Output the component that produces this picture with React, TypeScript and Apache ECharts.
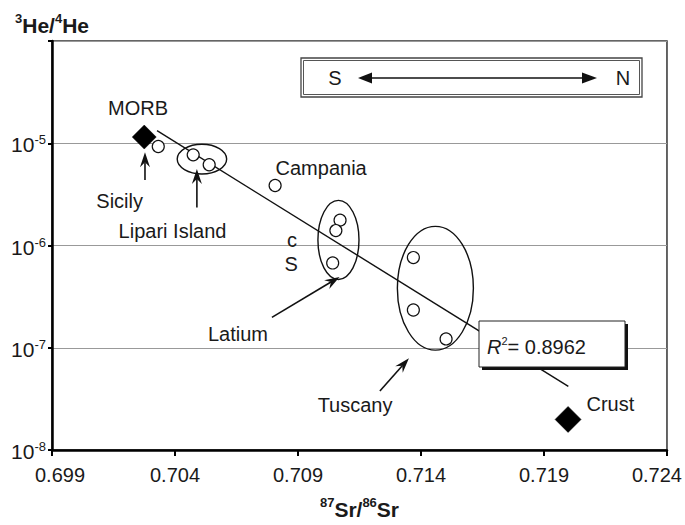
import React, { useEffect, useRef } from "react";
import * as echarts from "echarts";

const FONT = '"Liberation Sans", Arial, Helvetica, sans-serif';

// Axes
const xMin = 0.699;
const xMax = 0.724;
const xStep = 0.005;
const yMin = 1e-8;
const yMax = 1e-4;

// Samples (open circles)
const sampleX = [0.70332, 0.70474, 0.70539, 0.70807, 0.71071, 0.71054, 0.71041, 0.71369, 0.71369, 0.71502];
const sampleY = [9.29e-6, 7.7e-6, 6.16e-6, 3.86e-6, 1.77e-6, 1.4e-6, 6.75e-7, 7.62e-7, 2.34e-7, 1.22e-7];

// End members (filled diamonds)
const endNames = ["MORB", "Crust"];
const endX = [0.70275, 0.71998];
const endY = [1.15e-5, 1.99e-8];
const endSize = [24, 26];

// Trend line
const trendX = [0.70327, 0.71999];
const trendY = [1.327e-5, 4.19e-8];
const r2Value = "0.8962";

// Group ellipses (bounds in data units)
const ellipseNames = ["Lipari Island", "Latium", "Tuscany"];
const ellipseXLeft = [0.70409, 0.70981, 0.71304];
const ellipseXRight = [0.7061, 0.71148, 0.71613];
const ellipseYBottom = [5.01e-6, 4.65e-7, 9.48e-8];
const ellipseYTop = [9.78e-6, 2.76e-6, 1.54e-6];

// Pointer arrows
const arrowTailX = [0.70278, 0.70489, 0.70794, 0.71233];
const arrowTailY = [4.38e-6, 2.35e-6, 1.98e-7, 3.78e-8];
const arrowTipX = [0.70278, 0.70489, 0.71069, 0.71351];
const arrowTipY = [8.18e-6, 5.6e-6, 4.93e-7, 7.88e-8];

// Text labels
const labelNames = ["MORB", "Sicily", "Lipari Island", "Campania", "c", "S", "Latium", "Tuscany", "Crust"];
const labelX = [0.7025, 0.70175, 0.7039, 0.70994, 0.70876, 0.70872, 0.70656, 0.71132, 0.7217];
const labelY = [2.21e-5, 2.75e-6, 1.374e-6, 5.73e-6, 1.125e-6, 6.59e-7, 1.37e-7, 2.78e-8, 2.82e-8];

const TXT = "#1a1a1a";
const TOP = 100;

function buildOption(): any {
  const samples = sampleX.map((x, i) => [x, sampleY[i]]);
  const ends = endX.map((x, i) => ({ name: endNames[i], value: [x, endY[i]], symbolSize: endSize[i] }));
  const trend = trendX.map((x, i) => [x, trendY[i]]);
  const ellipses = ellipseNames.map((_, i) => [ellipseXLeft[i], ellipseXRight[i], ellipseYBottom[i], ellipseYTop[i]]);
  const arrows = arrowTailX.map((x, i) => [x, arrowTailY[i], arrowTipX[i], arrowTipY[i]]);
  const labels = labelNames.map((_, i) => [labelX[i], labelY[i]]);

  return {
    animation: false,
    backgroundColor: "#fff",
    grid: {
      left: 52,
      right: 18,
      top: 41,
      bottom: 70,
      show: true,
      borderColor: "#333",
      borderWidth: 1.5,
      backgroundColor: "transparent",
    },
    xAxis: {
      type: "value",
      min: xMin,
      max: xMax,
      interval: xStep,
      name: "{s|87}{b|Sr/}{s|86}{b|Sr}",
      nameLocation: "middle",
      nameGap: 46,
      nameTextStyle: {
        rich: {
          b: { fontSize: 21, fontWeight: "bold", fontFamily: FONT, color: TXT, lineHeight: 24, verticalAlign: "bottom" },
          s: { fontSize: 13, fontWeight: "bold", fontFamily: FONT, color: TXT, lineHeight: 13, verticalAlign: "top" },
        },
      },
      axisLine: { show: true, lineStyle: { color: "#000", width: 2.5 } },
      axisTick: { show: true, inside: false, length: 6, lineStyle: { color: "#000", width: 2 } },
      splitLine: { show: false },
      axisLabel: {
        margin: 15,
        fontSize: 20,
        fontFamily: FONT,
        color: TXT,
        formatter: (v: number) => {
          const s = v.toFixed(3);
          if (Math.abs(v - xMin) < 1e-6) return `{first|${s}}`;
          if (Math.abs(v - xMax) < 1e-6) return `{last|${s}}`;
          return s;
        },
        rich: {
          first: { fontSize: 20, fontFamily: FONT, color: TXT, padding: [0, 0, 0, 16] },
          last: { fontSize: 20, fontFamily: FONT, color: TXT, padding: [0, 20, 0, 0] },
        },
      },
    },
    yAxis: {
      type: "log",
      logBase: 10,
      min: yMin,
      max: yMax,
      name: "{s|3}{b|He/}{s|4}{b|He}",
      nameLocation: "end",
      nameGap: 5,
      nameTextStyle: {
        align: "center",
        rich: {
          b: { fontSize: 21, fontWeight: "bold", fontFamily: FONT, color: TXT, lineHeight: 24, verticalAlign: "bottom" },
          s: { fontSize: 13, fontWeight: "bold", fontFamily: FONT, color: TXT, lineHeight: 13, verticalAlign: "top" },
        },
      },
      axisLine: { show: true, lineStyle: { color: "#000", width: 2.5 } },
      axisTick: { show: true, inside: false, length: 4, lineStyle: { color: "#000", width: 2 } },
      minorTick: { show: false },
      splitLine: { show: true, lineStyle: { color: "#999", width: 1 } },
      axisLabel: {
        margin: 6,
        formatter: (v: number) => {
          const e = Math.round(Math.log10(v));
          if (e === -4) return "";
          return `{b|10}{s|${e}}`;
        },
        rich: {
          b: { fontSize: 21, fontFamily: FONT, color: TXT, lineHeight: 24, verticalAlign: "bottom", padding: [6, 0, 0, 0] },
          s: { fontSize: 13, fontFamily: FONT, color: TXT, lineHeight: 13, verticalAlign: "top", padding: [2, 0, 0, 0] },
        },
      },
    },
    series: [
      {
        name: "trend",
        type: "line",
        data: trend,
        symbol: "none",
        lineStyle: { color: "#111", width: 1.4 },
        z: 2,
        silent: true,
      },
      {
        name: "groups",
        type: "custom",
        data: ellipses,
        encode: { x: [0, 1], y: [2, 3] },
        clip: false,
        silent: true,
        z: 3,
        renderItem: (params: any, api: any) => {
          const p1 = api.coord([api.value(0), api.value(3)]);
          const p2 = api.coord([api.value(1), api.value(2)]);
          return {
            type: "ellipse",
            shape: {
              cx: (p1[0] + p2[0]) / 2,
              cy: (p1[1] + p2[1]) / 2,
              rx: Math.abs(p2[0] - p1[0]) / 2,
              ry: Math.abs(p2[1] - p1[1]) / 2,
            },
            style: { fill: "none", stroke: "#111", lineWidth: 1.4 },
          };
        },
      },
      {
        name: "pointers",
        type: "custom",
        data: arrows,
        encode: { x: [0, 2], y: [1, 3] },
        clip: false,
        silent: true,
        z: 4,
        renderItem: (params: any, api: any) => {
          const a = api.coord([api.value(0), api.value(1)]);
          const b = api.coord([api.value(2), api.value(3)]);
          const dx = b[0] - a[0];
          const dy = b[1] - a[1];
          const len = Math.hypot(dx, dy) || 1;
          const ux = dx / len;
          const uy = dy / len;
          const px = -uy;
          const py = ux;
          const headL = 15;
          const headW = 5;
          const notch = 10;
          const base = [b[0] - ux * headL, b[1] - uy * headL];
          const n = [b[0] - ux * notch, b[1] - uy * notch];
          return {
            type: "group",
            children: [
              { type: "line", shape: { x1: a[0], y1: a[1], x2: n[0], y2: n[1] }, style: { stroke: "#111", lineWidth: 1.6 } },
              {
                type: "polygon",
                shape: {
                  points: [
                    [b[0], b[1]],
                    [base[0] + px * headW, base[1] + py * headW],
                    [n[0], n[1]],
                    [base[0] - px * headW, base[1] - py * headW],
                  ],
                },
                style: { fill: "#111" },
              },
            ],
          };
        },
      },
      {
        name: "samples",
        type: "scatter",
        data: samples,
        symbol: "circle",
        symbolSize: 12,
        itemStyle: { color: "#fff", borderColor: "#111", borderWidth: 1.2, opacity: 1 },
        z: 5,
        silent: true,
      },
      {
        name: "endmembers",
        type: "scatter",
        data: ends,
        symbol: "diamond",
        itemStyle: { color: "#000", borderColor: "#000", borderWidth: 0.5, opacity: 1 },
        z: 6,
        silent: true,
      },
      {
        name: "labels",
        type: "custom",
        data: labels,
        encode: { x: 0, y: 1 },
        clip: false,
        silent: true,
        z: 7,
        renderItem: (params: any, api: any) => {
          const p = api.coord([api.value(0), api.value(1)]);
          return {
            type: "text",
            x: p[0],
            y: p[1],
            style: {
              text: labelNames[params.dataIndex],
              fontSize: 20,
              fontFamily: FONT,
              fill: TXT,
              align: "center",
              verticalAlign: "middle",
            },
          };
        },
      },
    ],
    graphic: {
      elements: [
        { type: "rect", z: TOP, shape: { x: 301, y: 58, width: 341, height: 39 }, style: { fill: "#fff", stroke: "#444", lineWidth: 1.3 } },
        { type: "rect", z: TOP + 1, shape: { x: 303.5, y: 60.5, width: 336, height: 34 }, style: { fill: "none", stroke: "#555", lineWidth: 1 } },
        { type: "text", z: TOP + 1, x: 335, y: 78, style: { text: "S", fontSize: 20, fontFamily: FONT, fill: TXT, align: "center", verticalAlign: "middle" } },
        { type: "text", z: TOP + 1, x: 623, y: 78, style: { text: "N", fontSize: 20, fontFamily: FONT, fill: TXT, align: "center", verticalAlign: "middle" } },
        { type: "line", z: TOP + 1, shape: { x1: 370, y1: 78, x2: 584, y2: 78 }, style: { stroke: "#111", lineWidth: 1.5 } },
        { type: "polygon", z: TOP + 1, shape: { points: [[358, 78], [372, 72.5], [372, 83.5]] }, style: { fill: "#111" } },
        { type: "polygon", z: TOP + 1, shape: { points: [[597, 78], [582, 72.5], [582, 83.5]] }, style: { fill: "#111" } },
        { type: "rect", z: TOP, shape: { x: 482, y: 324, width: 146, height: 46 }, style: { fill: "#111" } },
        { type: "rect", z: TOP + 1, shape: { x: 479, y: 321, width: 146, height: 46 }, style: { fill: "#fff", stroke: "#222", lineWidth: 1 } },
        {
          type: "text",
          z: TOP + 2,
          x: 487,
          y: 345,
          style: {
            text: `{i|R}{s|2}{n|= ${r2Value}}`,
            align: "left",
            verticalAlign: "middle",
            rich: {
              i: { fontSize: 20, fontStyle: "italic", fontFamily: FONT, fill: TXT, lineHeight: 24, verticalAlign: "bottom" },
              s: { fontSize: 11, fontFamily: FONT, fill: TXT, lineHeight: 12, verticalAlign: "top", padding: [2, 0, 0, 0] },
              n: { fontSize: 20, fontFamily: FONT, fill: TXT, lineHeight: 24, verticalAlign: "bottom" },
            },
          },
        },
      ],
    },
  };
}

export default function App() {
  const ref = useRef<HTMLDivElement>(null);
  useEffect(() => {
    if (!ref.current) return;
    const chart = echarts.init(ref.current, null, { renderer: "svg" });
    chart.setOption(buildOption());
    return () => chart.dispose();
  }, []);
  return (
    <div
      ref={ref}
      style={{ position: "absolute", left: 0, top: 0, width: 685, height: 525, background: "#fff" }}
    />
  );
}
